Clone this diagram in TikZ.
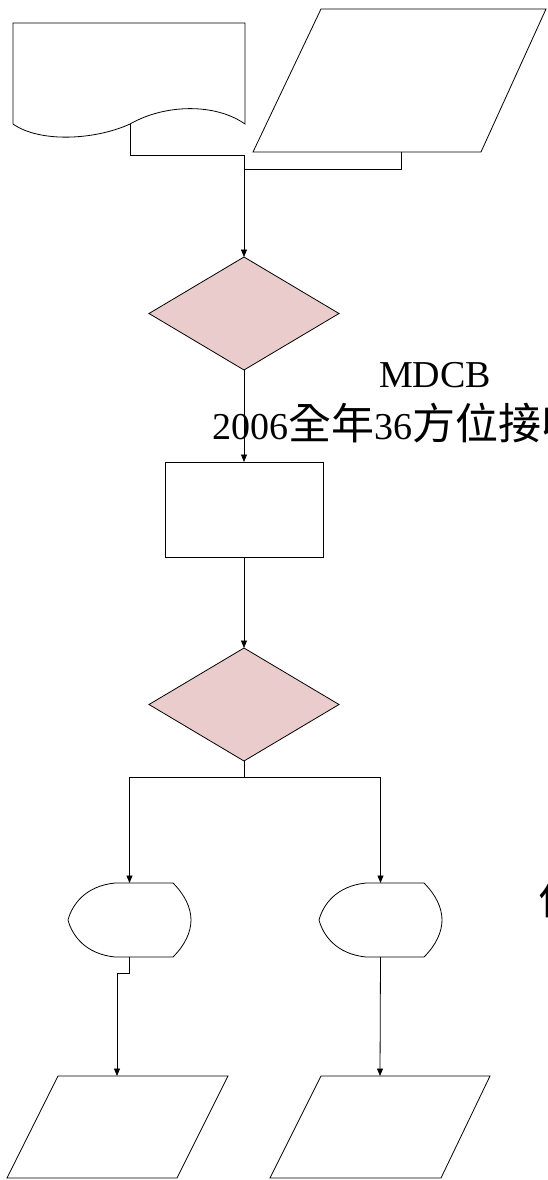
\documentclass[tikz,border=0pt]{standalone}
\usepackage{fontspec}
\setmainfont{Liberation Serif}
\newfontfamily\cjk{Noto Sans CJK TC}
\newcommand{\cjkbig}{\cjk\fontsize{43}{50}\selectfont}
\usetikzlibrary{arrows.meta,shapes.geometric}
\definecolor{pinkfill}{RGB}{235,204,204}
\begin{document}
\begin{tikzpicture}[x=1pt,y=-1pt,
  shp/.style={draw=black,line width=0.8pt,fill=white},
  dec/.style={draw=black,line width=0.8pt,fill=pinkfill,diamond,minimum width=190pt,minimum height=113pt,inner sep=0pt,outer sep=0pt},
  box/.style={draw=black,line width=0.8pt,fill=white,minimum width=158pt,minimum height=95pt,inner sep=0pt,outer sep=0pt},
  conn/.style={draw=black,line width=0.8pt},
  arr/.style={conn,-{Triangle[length=7.5pt,width=6pt]}},
  lbl/.style={inner sep=0pt,outer sep=0pt,font=\fontsize{38}{46}\selectfont}]
\useasboundingbox (0,0) rectangle (547,1180);
\clip (0,0) rectangle (547,1180);
% document shape
\draw[shp] (13,124) -- (13,23) -- (245,23) -- (245,124)
  .. controls (215,103) and (165,104) .. (130,124)
  .. controls (95,140) and (40,143) .. (13,124) -- cycle;
\coordinate (docout) at (130,124);
% parallelogram top
\draw[shp] (321,9) -- (546,9) -- (481,152) -- (253,152) -- cycle;
\coordinate (p1out) at (401,152);
\coordinate (j1) at (244,155);
\coordinate (j2) at (244,169);
% decision / process
\node[dec] (d1) at (244,313.5) {};
\node[box] (r) at (244,509.5) {};
\node[dec] (d2) at (244,704.5) {};
\coordinate (j3) at (244,777);
% display shapes
\foreach \dx/\nm in {0/s1,251/s2}{
  \begin{scope}[xshift=\dx pt]
    \draw[shp] (115,883) -- (173,883)
      .. controls (185,895) and (191,908) .. (191,920)
      .. controls (191,932) and (185,945) .. (173,957)
      -- (115,957)
      .. controls (85,954) and (72,935) .. (68,920)
      .. controls (72,905) and (85,886) .. (115,883) -- cycle;
    \coordinate (\nm n) at (129.5,883);
    \coordinate (\nm s) at (129.5,957);
  \end{scope}
}
\coordinate (k) at (117,973);
% bottom parallelograms
\draw[shp] (58,1076) -- (228,1076) -- (177,1178) -- (7,1178) -- cycle;
\coordinate (p2n) at (117,1076);
\draw[shp] (321,1076) -- (490,1076) -- (441,1178) -- (270,1178) -- cycle;
\coordinate (p3n) at (380,1076);
% connectors
\draw[conn] (docout) |- (j1);
\draw[conn] (p1out) |- (j2);
\draw[arr] (j1) -- (d1.north);
\draw[arr] (d1.south) -- (r.north);
\draw[arr] (r.south) -- (d2.north);
\draw[conn] (d2.south) -- (j3);
\draw[arr] (j3) -| (s1n);
\draw[arr] (j3) -| (s2n);
\draw[arr] (s1s) |- (k) -- (p2n);
\draw[arr] (s2s) -- (p3n);
% labels
\node[lbl,anchor=base] (t1) at (435,387) {MDCB};
\node[lbl,anchor=base west] (t2) at (212,439) {2006{\cjkbig 全年}36{\cjkbig 方位接收}};
\node[lbl,anchor=base west] (t3) at (538,914) {\cjkbig 位};
\end{tikzpicture}
\end{document}
